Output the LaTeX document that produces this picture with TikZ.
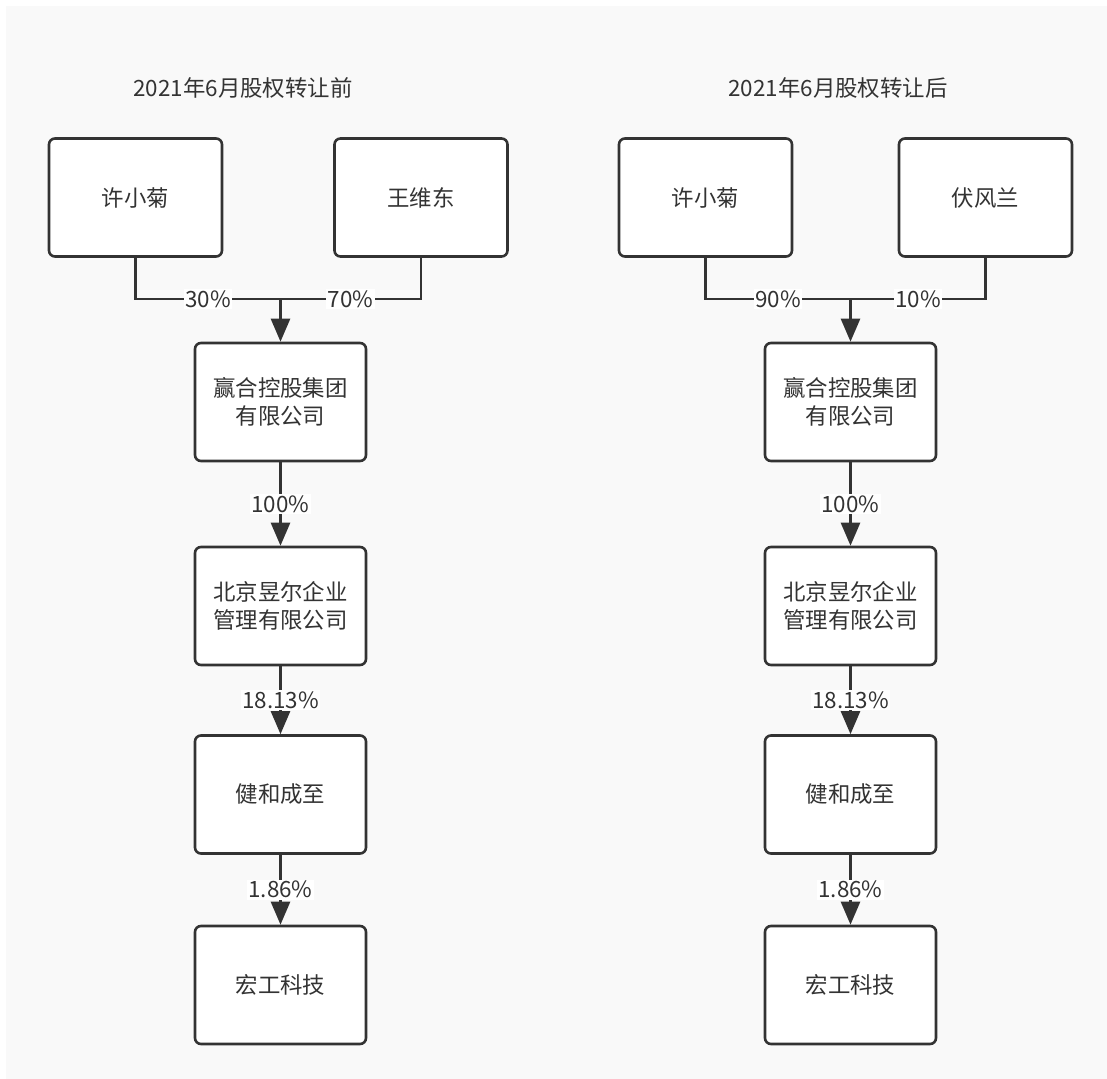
\documentclass[tikz,border=0pt]{standalone}
\usepackage{fontspec}
\setmainfont{Noto Sans CJK SC}
\usetikzlibrary{arrows.meta}
\definecolor{ink}{HTML}{333333}
\definecolor{bg}{HTML}{F9F9F9}
\tikzset{
  box/.style={draw=ink, line width=2.6bp, fill=white, rounded corners=6bp,
    minimum width=171bp, minimum height=118bp, inner sep=0pt, text=ink,
    font=\fontsize{22.5}{27.5}\selectfont, align=center},
  topbox/.style={box, minimum width=173bp},
  conn/.style={draw=ink, line width=2.6bp},
  arr/.style={conn, -{Triangle[length=23bp,width=19bp]}},
  lbl/.style={fill=white, inner sep=1.5bp, text=ink, font=\fontsize{22.5}{26}\selectfont},
  ttl/.style={text=ink, font=\fontsize{22.5}{26}\selectfont}
}
\begin{document}
\begin{tikzpicture}[x=1bp,y=-1bp]
\useasboundingbox (0,0) rectangle (1107,1079);
\fill[white] (0,0) rectangle (1107,1079);
\fill[bg] (6,6) rectangle (1115,1090);

% Left column
\node[ttl] (t1) at (243,88) {2021年6月股权转让前};
\node[topbox] (a1) at (135.5,197.5) {许小菊};
\node[topbox] (a2) at (421,197.5) {王维东};
\node[box] (a3) at (280.5,402) {赢合控股集团\\有限公司};
\node[box] (a4) at (280.5,606) {北京昱尔企业\\管理有限公司};
\node[box] (a5) at (280.5,794.5) {健和成至};
\node[box] (a6) at (280.5,985) {宏工科技};
\coordinate (j1) at (280.5,299);
\draw[conn] (a1.south) |- node[lbl,pos=0.75] {30\%} (j1);
\draw[conn] (a2.south) |- node[lbl,pos=0.75] {70\%} (j1);
\draw[arr] (j1) -- (a3.north);
\draw[arr] (a3) -- node[lbl] {100\%} (a4);
\draw[arr] (a4) -- node[lbl] {18.13\%} (a5);
\draw[arr] (a5) -- node[lbl] {1.86\%} (a6);

% Right column
\node[ttl] (t2) at (838,88) {2021年6月股权转让后};
\node[topbox] (b1) at (705.5,197.5) {许小菊};
\node[topbox] (b2) at (985.5,197.5) {伏风兰};
\node[box] (b3) at (850.5,402) {赢合控股集团\\有限公司};
\node[box] (b4) at (850.5,606) {北京昱尔企业\\管理有限公司};
\node[box] (b5) at (850.5,794.5) {健和成至};
\node[box] (b6) at (850.5,985) {宏工科技};
\coordinate (j2) at (850.5,299);
\draw[conn] (b1.south) |- node[lbl,pos=0.75] {90\%} (j2);
\draw[conn] (b2.south) |- node[lbl,pos=0.75] {10\%} (j2);
\draw[arr] (j2) -- (b3.north);
\draw[arr] (b3) -- node[lbl] {100\%} (b4);
\draw[arr] (b4) -- node[lbl] {18.13\%} (b5);
\draw[arr] (b5) -- node[lbl] {1.86\%} (b6);
\end{tikzpicture}
\end{document}
